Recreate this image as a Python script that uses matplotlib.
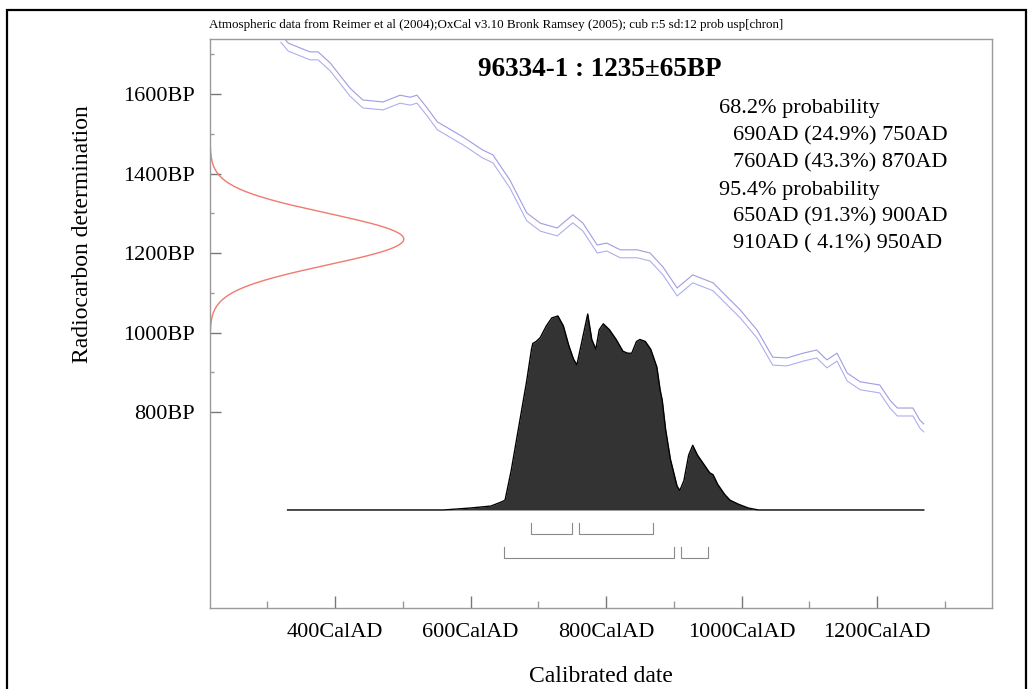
import numpy as np
import matplotlib
matplotlib.use('Agg')
import matplotlib.pyplot as plt
from matplotlib.ticker import FixedLocator, FuncFormatter

plt.rcParams['font.family'] = ['Liberation Serif', 'DejaVu Serif']

W, H = 1033, 689

# 测量值
c14_mean = 1235
c14_err = 65
title = '96334-1 : 1235±65BP'
header = ('Atmospheric data from Reimer et al (2004);OxCal v3.10 Bronk Ramsey (2005); '
          'cub r:5 sd:12 prob usp[chron]')

# 校准曲线 (中线, BP) 和 1 sigma
cal_year = [320, 331, 363, 375, 393, 422, 441, 471, 496, 511, 521, 536, 551, 589, 618, 633,
            658, 683, 703, 728, 751, 766, 787, 801, 821, 846, 865, 884, 905, 928, 958, 979,
            998, 1023, 1046, 1067, 1091, 1111, 1126, 1141, 1156, 1175, 1204, 1219, 1230,
            1253, 1263, 1269]
cal_bp = [1740, 1718, 1696, 1696, 1668, 1605, 1575, 1570, 1587, 1582, 1587, 1555, 1520, 1482,
          1449, 1437, 1374, 1291, 1265, 1253, 1286, 1265, 1210, 1215, 1198, 1198, 1190, 1155,
          1102, 1135, 1115, 1079, 1047, 996, 928, 926, 938, 946, 921, 938, 888, 866, 858,
          820, 800, 800, 770, 760]
cal_sigma = 10

# 校准后概率分布 (相对高度)
dist_year = [330, 560, 600, 630, 645, 651, 660, 673, 683, 690, 692, 697, 703, 712, 720, 729,
             737, 745, 752, 757, 765, 773, 779, 785, 790, 796, 805, 815, 825, 832, 838, 845,
             850, 858, 866, 875, 880, 883, 888, 895, 905, 909, 915, 922, 928, 935, 945, 953,
             958, 965, 975, 983, 995, 1010, 1025, 1269]
dist_prob = [0, 0, .01, .02, .04, .05, .2, .46, .66, .82, .85, .86, .88, .94, .98, .99,
             .94, .84, .77, .74, .87, 1.0, .87, .82, .92, .95, .92, .87, .81, .80, .80, .86,
             .87, .86, .82, .73, .61, .56, .41, .26, .12, .10, .15, .28, .33, .28, .23, .19,
             .18, .13, .08, .05, .03, .01, 0, 0]

# 置信区间
ranges_68 = [(690, 750), (760, 870)]
ranges_95 = [(650, 900), (910, 950)]
prob_lines = ['68.2% probability', '690AD (24.9%) 750AD', '760AD (43.3%) 870AD',
              '95.4% probability', '650AD (91.3%) 900AD', '910AD ( 4.1%) 950AD']
prob_indent = [False, True, True, False, True, True]

xlim = (215.5, 1369.7)
ylim = (306.9, 1738.4)
dist_base = 553.5
dist_scale = 493
bracket_y = [493, 433]
bracket_h = [28, 27]


def px(x, y):
    return x / W, 1 - y / H


fig = plt.figure(figsize=(W / 100, H / 100), dpi=100)
ax = fig.add_axes([210 / W, 1 - 608 / H, 782 / W, 569 / H])
ax.set_xlim(*xlim)
ax.set_ylim(*ylim)

# 校准曲线
cal_year_a = np.array(cal_year)
cal_bp_a = np.array(cal_bp)
ax.plot(cal_year_a, cal_bp_a + cal_sigma, color='#9890dc', lw=0.8, alpha=0.9)
ax.plot(cal_year_a, cal_bp_a - cal_sigma, color='#a4a6ea', lw=0.8, alpha=0.9)

# 测量值的正态分布 (y 轴上)
bp = np.linspace(ylim[0], ylim[1], 600)
gx = xlim[0] + 286 * np.exp(-0.5 * ((bp - c14_mean) / c14_err) ** 2)
ax.plot(gx, bp, color='#f07a70', lw=1.0)

# 概率分布
dy = np.array(dist_prob) * dist_scale + dist_base
ax.fill_between(dist_year, dist_base, dy, color='#333333', lw=0)
ax.plot(dist_year, dy, color='black', lw=1.0)

# 区间括号
for rs, yb, hh in zip([ranges_68, ranges_95], bracket_y, bracket_h):
    for a, b in rs:
        ax.plot([a, a, b, b], [yb + hh, yb, yb, yb + hh], color='#8a8a8a', lw=0.8)

# 坐标轴
for s in ['top', 'right', 'bottom', 'left']:
    ax.spines[s].set_color('#9a9a9a')
    ax.spines[s].set_linewidth(1.0)
ax.xaxis.set_major_locator(FixedLocator([400, 600, 800, 1000, 1200]))
ax.xaxis.set_minor_locator(FixedLocator([300, 500, 700, 900, 1100, 1300]))
ax.yaxis.set_major_locator(FixedLocator([800, 1000, 1200, 1400, 1600]))
ax.yaxis.set_minor_locator(FixedLocator([900, 1100, 1300, 1500, 1700]))
ax.xaxis.set_major_formatter(FuncFormatter(lambda v, p: f'{int(v)}CalAD'))
ax.yaxis.set_major_formatter(FuncFormatter(lambda v, p: f'{int(v)}BP'))
ax.tick_params(axis='x', which='major', direction='in', length=9, width=1, color='#777777',
               labelsize=16, pad=11)
ax.tick_params(axis='x', which='minor', direction='in', length=5, width=1, color='#999999')
ax.tick_params(axis='y', which='major', direction='in', length=8, width=1, color='#777777',
               labelsize=16, pad=11)
ax.tick_params(axis='y', which='minor', direction='in', length=3, width=1, color='#999999')

# 文字
fig.text(*px(209, 25), header, fontsize=9.4, ha='left', va='center')
fig.text(*px(600, 70), title, fontsize=19.5, fontweight='bold', ha='center', va='center')
for i, (line, ind) in enumerate(zip(prob_lines, prob_indent)):
    fig.text(*px(733 if ind else 719, 109 + 27 * i), line, fontsize=16, ha='left', va='center')
fig.text(*px(83, 234), 'Radiocarbon determination', fontsize=17, rotation=90,
         ha='center', va='center')
fig.text(*px(601, 677), 'Calibrated date', fontsize=17, ha='center', va='center')

# 外框
frame = plt.Rectangle((7 / W, -0.05), 1019 / W, 1.05 - 10 / H, transform=fig.transFigure,
                      fill=False, color='black', lw=1.6)
fig.patches.append(frame)

fig.savefig('out.png', dpi=100)
